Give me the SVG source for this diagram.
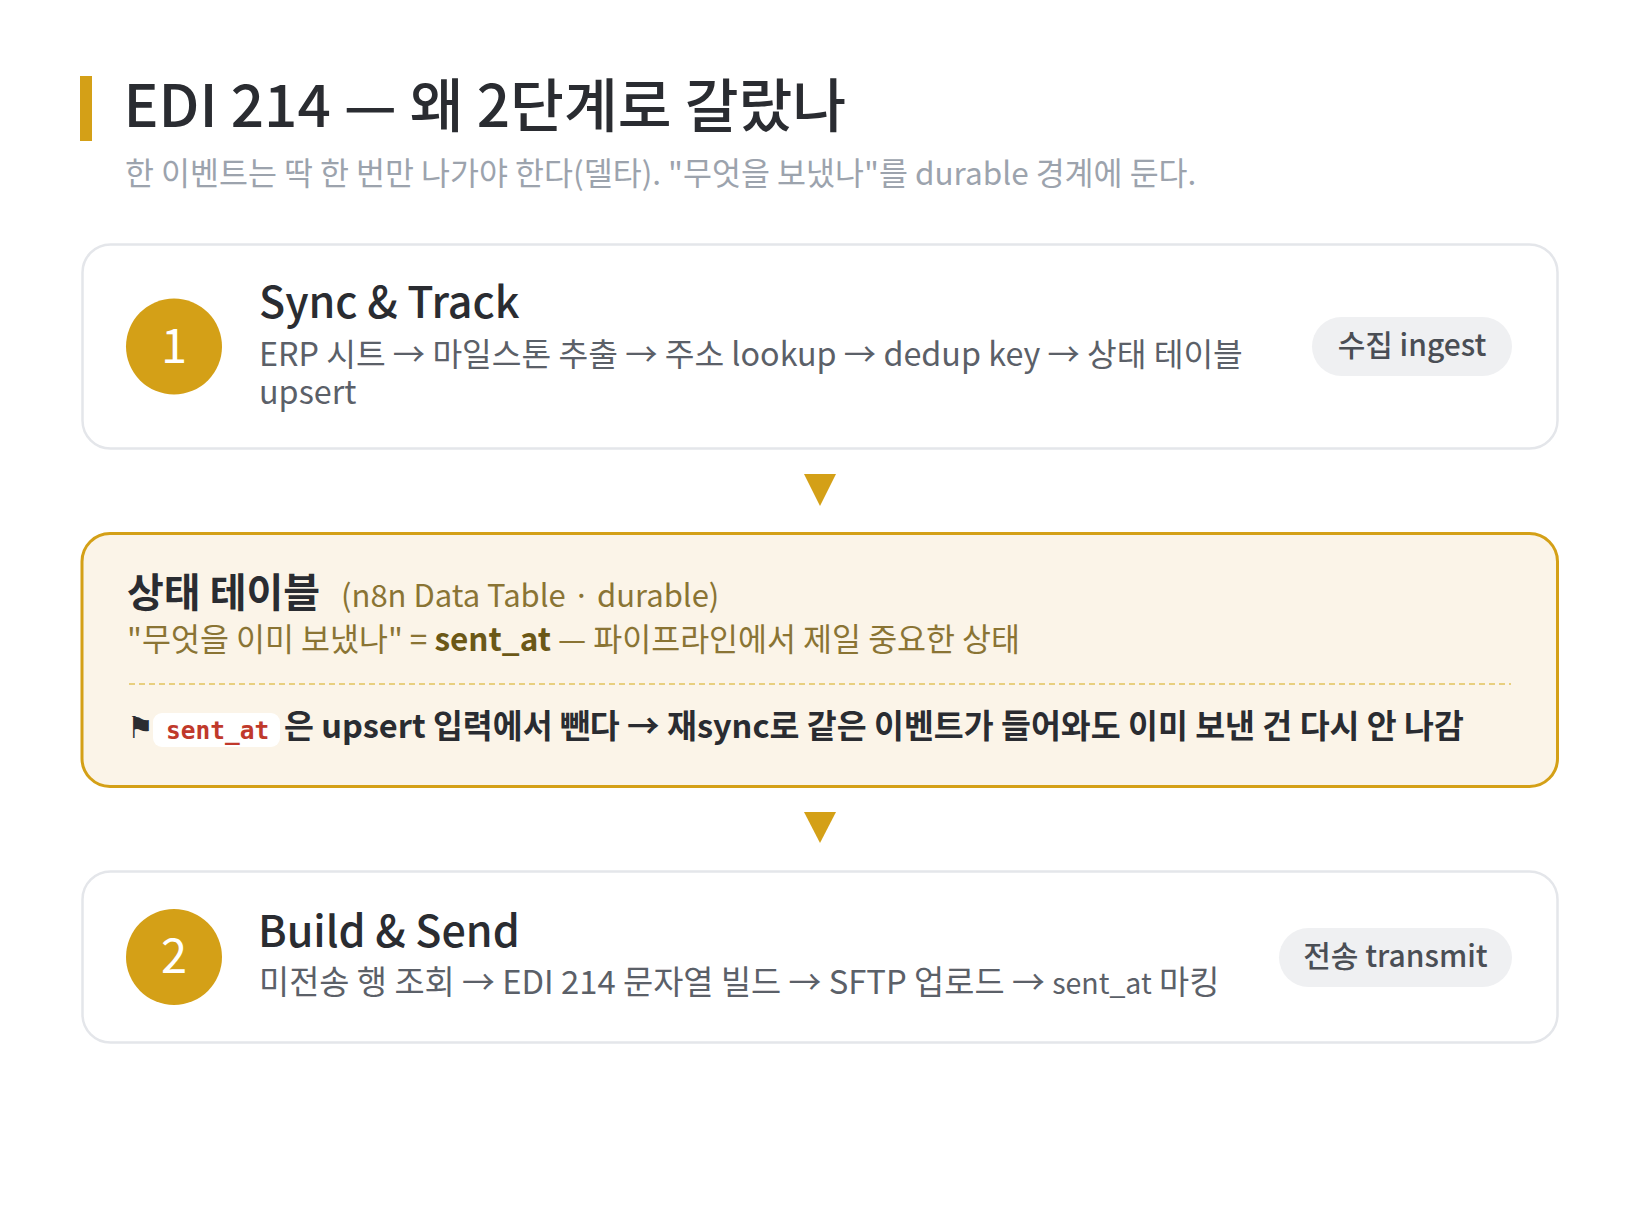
<svg xmlns="http://www.w3.org/2000/svg" width="1640" height="1232" viewBox="0 0 1640 1232">
<style>
text{font-family:"Noto Sans CJK KR","Noto Sans",sans-serif;}
.h1{font-size:58.5px;font-weight:500;fill:#2a2c31;}
.sub{font-size:31.5px;fill:#9ca3ad;}
.card{fill:#ffffff;stroke:#e4e6ea;stroke-width:2.5;}
.num{fill:#d4a017;}
.numt{font-size:47px;fill:#ffffff;text-anchor:middle;}
.ct{font-size:43px;font-weight:500;fill:#2a2c31;}
.cs{font-size:32.3px;fill:#5b6068;}
.cs2{font-size:32.8px;fill:#5b6068;}
.code2{font-size:28.5px;}
.badge{fill:#eff0f2;}
.bt{font-size:30px;font-weight:500;fill:#4a4e55;text-anchor:middle;}
.tri{fill:#d4a017;}
.st{font-size:40px;font-weight:700;fill:#2a2c31;}
.paren{font-size:31px;fill:#8a7434;}
.olive{font-size:31.5px;fill:#8a7434;}
.strong{font-weight:700;fill:#6b5817;}
.mono{font-family:"DejaVu Sans Mono","Liberation Mono",monospace;font-size:24.5px;font-weight:700;fill:#c0392b;}
.flag{font-family:"DejaVu Sans",sans-serif;font-size:30px;font-weight:700;fill:#2a2c31;}
.note{font-size:32.5px;font-weight:700;fill:#2a2c31;}
</style>
<rect width="1640" height="1232" fill="#ffffff"/>
<g id="header">
<rect x="80" y="76" width="12" height="65" fill="#d4a017"/>
<text class="h1" x="123.5" y="127">EDI 214 — 왜 2단계로 갈랐나</text>
<text class="sub" x="125" y="185">한 이벤트는 딱 한 번만 나가야 한다(델타). "무엇을 보냈나"를 durable 경계에 둔다.</text>
</g>
<g id="node-sync">
<rect class="card" x="82.5" y="244.5" width="1475" height="204" rx="28"/>
<circle class="num" cx="174" cy="346.5" r="48"/>
<text class="numt" x="174" y="363">1</text>
<text class="ct" x="259" y="318">Sync &amp; Track</text>
<text class="cs" x="259" y="366">ERP 시트 → 마일스톤 추출 → 주소 lookup → dedup key → 상태 테이블</text>
<text class="cs" x="259" y="404">upsert</text>
<rect class="badge" x="1312" y="317" width="200" height="59" rx="29.5"/>
<text class="bt" x="1412" y="356">수집 ingest</text>
</g>
<g id="node-state">
<rect x="82" y="533.5" width="1475.5" height="253" rx="28" fill="#fbf4e8" stroke="#d4a017" stroke-width="3"/>
<text class="st" x="127" y="607">상태 테이블</text>
<text class="paren" x="341" y="607">(n8n Data Table · durable)</text>
<text class="olive" x="127" y="651">"무엇을 이미 보냈나" = <tspan class="strong">sent_at</tspan> — 파이프라인에서 제일 중요한 상태</text>
<line x1="129" y1="684" x2="1511" y2="684" stroke="#e8cf7f" stroke-width="2" stroke-dasharray="6 4"/>
<text class="flag" x="127" y="738">⚑</text>
<rect x="153" y="713" width="127" height="34" rx="9" fill="#ffffff"/>
<text class="mono" x="166" y="739">sent_at</text>
<text class="note" x="284" y="738">은 upsert 입력에서 뺀다 → 재sync로 같은 이벤트가 들어와도 이미 보낸 건 다시 안 나감</text>
</g>
<g id="node-build">
<rect class="card" x="82.5" y="871.5" width="1475" height="171" rx="28"/>
<circle class="num" cx="174" cy="957" r="48"/>
<text class="numt" x="174" y="973">2</text>
<text class="ct" x="258" y="947">Build &amp; Send</text>
<text class="cs2" x="259" y="994">미전송 행 조회 → EDI 214 문자열 빌드 → SFTP 업로드 → <tspan class="code2">sent_at</tspan> 마킹</text>
<rect class="badge" x="1279" y="928" width="233" height="59" rx="29.5"/>
<text class="bt" x="1395.5" y="967">전송 transmit</text>
</g>
<g id="connectors">
<polygon class="tri" points="804,474 836,474 820,506"/>
<polygon class="tri" points="804,812 836,812 820,843"/>
</g>
</svg>
